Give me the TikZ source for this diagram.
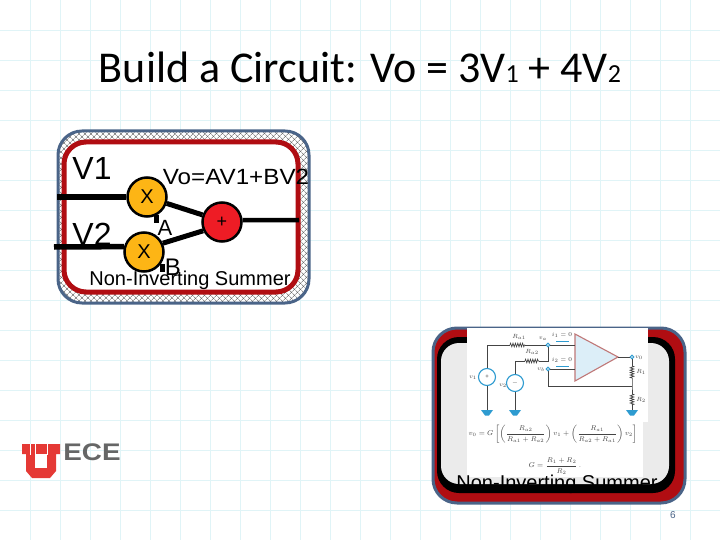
\documentclass[tikz,border=0pt]{standalone}
\usepackage{fontspec}
\usepackage{amsmath}
\setmainfont{Liberation Sans}
\newfontfamily\titlefont{Carlito}
\usetikzlibrary{patterns.meta,decorations.pathmorphing,calc}
\definecolor{gridc}{HTML}{E0F4F7}
\definecolor{frameb}{HTML}{4A6488}
\definecolor{darkred}{HTML}{B00D12}
\definecolor{orangec}{HTML}{FDB515}
\definecolor{redc}{HTML}{EE1C25}
\definecolor{logored}{HTML}{E53935}
\definecolor{logogray}{HTML}{666666}
\definecolor{opfill}{HTML}{DCEEF8}
\definecolor{opedge}{HTML}{C07878}
\definecolor{wirec}{HTML}{444444}
\definecolor{gndc}{HTML}{2E9BD0}
\tikzset{
 opcircle/.style={circle,draw=black,line width=2.5pt,minimum size=39pt,inner sep=0pt,font=\fontsize{20}{20}\selectfont},
 thickwire/.style={line width=5.5pt,black},
 stub/.style={line width=5pt,black},
 lbl/.style={inner sep=0pt,black},
 wire/.style={line width=0.7pt,wirec},
 res/.style={line width=0.7pt,wirec,decorate,decoration={zigzag,segment length=2.4pt,amplitude=1.8pt}},
 small/.style={inner sep=0pt,font=\fontsize{6.5}{7}\selectfont,text=wirec},
 pin/.style={circle,draw=gndc,fill=white,line width=0.9pt,minimum size=3.5pt,inner sep=0pt},
 gnd/.style={fill=gndc,draw=none},
 src/.style={circle,draw=gndc,fill=white,line width=1.1pt,minimum size=17pt,inner sep=0pt,font=\fontsize{6}{6}\selectfont,text=wirec},
 hatchA/.style={pattern={Lines[angle=45,distance=4pt,line width=0.5pt]},pattern color=black!65},
 hatchB/.style={pattern={Lines[angle=-45,distance=4pt,line width=0.5pt]},pattern color=black!65},
}
\begin{document}
\begin{tikzpicture}[x=1pt,y=-1pt]
\useasboundingbox (0,0) rectangle (720,540);
\fill[white] (0,0) rectangle (720,540);
% grid
\foreach \g in {30,60,...,690} \draw[gridc,line width=0.8pt] (\g,0) -- (\g,540);
\foreach \g in {30,60,...,510} \draw[gridc,line width=0.8pt] (0,\g) -- (720,\g);
% title
\node[lbl,anchor=center] (title) at (360,67) {\titlefont\fontsize{44}{44}\selectfont Build a Circuit: Vo = 3V{\fontsize{26}{26}\selectfont 1} + 4V{\fontsize{26}{26}\selectfont 2}};
% left box
\fill[white,rounded corners=24pt] (58,131) rectangle (309,303);
\fill[hatchA,rounded corners=24pt] (58,131) rectangle (309,303);
\fill[hatchB,rounded corners=24pt] (58,131) rectangle (309,303);
\draw[frameb,line width=3pt,rounded corners=24pt] (58,131) rectangle (309,303);
\draw[darkred,line width=5pt,rounded corners=22pt,fill=white] (64,142) rectangle (298,292);
\node[lbl] (v1) at (92,168) {\fontsize{32}{32}\selectfont V1};
\node[lbl] (v2) at (92,234) {\fontsize{32}{32}\selectfont V2};
\node[opcircle,fill=orangec] (x1) at (147,197) {X};
\node[opcircle,fill=orangec] (x2) at (144,252) {X};
\node[opcircle,fill=redc,font=\fontsize{18}{18}\selectfont] (plus) at (222,222) {+};
\coordinate (in1) at (57,197);
\coordinate (in2) at (54,247);
\coordinate (out) at (299,220);
\coordinate (a1) at (156,215);
\coordinate (a2) at (156,223);
\coordinate (b1) at (162,264);
\coordinate (b2) at (162,272);
\draw[thickwire] (in1) -- (x1.west);
\draw[thickwire] (in2) -- (x2.165);
\draw[thickwire,line width=5pt] (x1.-18) -- (plus.160);
\draw[thickwire,line width=5pt] (x2.25) -- (plus.205);
\draw[thickwire,line width=4.5pt] (plus.5) -- (out);
\draw[stub] (a1) -- (a2);
\draw[stub] (b1) -- (b2);
\node[lbl,xscale=1.1] (eq) at (236,177) {\fontsize{22}{22}\selectfont Vo=AV1+BV2};
\node[lbl] (la) at (165,228) {\fontsize{22}{22}\selectfont A};
\node[lbl] (lb) at (173,267) {\fontsize{24}{24}\selectfont B};
\node[lbl] (ns1) at (190,280) {\fontsize{20}{21}\selectfont Non-Inverting Summer};
% right box
\draw[frameb,line width=3pt,rounded corners=24pt,fill=darkred] (433,328) rectangle (685,503);
\fill[black,rounded corners=22pt] (437,337) rectangle (675,493);
\fill[black!8,rounded corners=18pt] (441,343) rectangle (669,484);
\fill[white] (467,328) rectangle (648,422);
\fill[white] (467,422) rectangle (643,477);
% circuit
\node[pin] (pa) at (548,345) {};
\node[pin] (pb) at (548,369) {};
\node[pin] (po) at (632,357) {};
\coordinate (tl) at (575,334); \coordinate (bl) at (575,381); \coordinate (tip) at (618,357);
\filldraw[fill=opfill,draw=opedge,line width=1.1pt] (tl) -- (bl) -- (tip) -- cycle;
\node[src] (s1) at (487,377) {+};
\node[src] (s2) at (515,383) {$-$};
\coordinate (n1) at (487,345); \coordinate (n2) at (515,361); \coordinate (n3) at (548,361);
\coordinate (r1a) at (510,345); \coordinate (r1b) at (525,345);
\coordinate (r2a) at (525,361); \coordinate (r2b) at (539,361);
\coordinate (j) at (632,386); \coordinate (j2) at (548,386);
\coordinate (g1) at (487,410); \coordinate (g2) at (515,410); \coordinate (g3) at (632,410);
\coordinate (r3a) at (632,366); \coordinate (r3b) at (632,378);
\coordinate (r4a) at (632,394); \coordinate (r4b) at (632,405);
\draw[wire,line width=1pt] (s1) -- (n1) -- (r1a);
\draw[res] (r1a) -- (r1b);
\draw[wire] (r1b) -- (pa) -- (575,345);
\draw[wire,line width=1pt] (s1) -- (g1);
\draw[wire] (s2) -- (n2) -- (r2a);
\draw[res] (r2a) -- (r2b);
\draw[wire] (r2b) -- (n3) -- (pa);
\draw[wire,line width=1pt] (s2) -- (g2);
\draw[wire] (pb) -- (575,369);
\draw[wire] (pb) -- (j2) -- (j);
\draw[wire] (tip) -- (po) -- (r3a);
\draw[res] (r3a) -- (r3b);
\draw[wire] (r3b) -- (j) -- (r4a);
\draw[res] (r4a) -- (r4b);
\draw[wire] (r4b) -- (g3);
\node[pin] at (pa) {};\node[pin] at (pb) {};\node[pin] at (po) {};
\foreach \c in {g1,g2,g3} {
 \fill[gnd] ($(\c)+(-6,0)$) -- ($(\c)+(6,0)$) -- ($(\c)+(2,5.5)$) -- ($(\c)+(-2,5.5)$) -- cycle;
}
\draw[gndc,line width=1pt] (556,341) -- (569,341);
\draw[gndc,line width=1pt] (556,366) -- (569,366);
\node[small] (ra1) at (519,337) {$R_{a1}$};
\node[small] (ra2) at (532,352) {$R_{a2}$};
\node[small] (lva) at (543,339) {$v_a$};
\node[small] (lvb) at (541,370) {$v_b$};
\node[small] (i1) at (562,335) {$i_1=0$};
\node[small] (i2) at (562,360) {$i_2=0$};
\node[small] (lv1) at (473,378) {$v_1$};
\node[small] (lv2) at (503,386) {$v_2$};
\node[small] (lvo) at (639,358) {$v_0$};
\node[small] (lr1) at (641,372) {$R_1$};
\node[small] (lr2) at (641,400) {$R_2$};
\node[small,font=\fontsize{7.5}{8}\selectfont] (fa) at (553,434) {$v_0=G\left[\left(\dfrac{R_{a2}}{R_{a1}+R_{a2}}\right)v_1+\left(\dfrac{R_{a1}}{R_{a2}+R_{a1}}\right)v_2\right]$};
\node[small,font=\fontsize{7.5}{8}\selectfont] (fb) at (555,466) {$G=\dfrac{R_1+R_2}{R_2}\,.$};
\node[lbl] (ns2) at (557,484) {\fontsize{20}{21}\selectfont Non-Inverting Summer};
% logo
\fill[logored] (22,444) -- (60,444) -- (60,454) -- (56,454) -- (56,471) -- (50,478) -- (32,478) -- (26,471) -- (26,454) -- (22,454) -- cycle;
\fill[white] (35,454) rectangle (47,468);
\draw[white,line width=0.8pt] (30,444) -- (30,455);
\draw[white,line width=0.8pt] (35,444) -- (35,455);
\draw[white,line width=0.8pt] (47,444) -- (47,455);
\node[lbl,text=logogray,xscale=1.16] (ece) at (92,452.5) {\fontsize{24}{24}\selectfont\bfseries ECE};
\node[lbl,text=frameb] (pg) at (673,515) {\fontsize{10}{10}\selectfont 6};
\end{tikzpicture}
\end{document}
